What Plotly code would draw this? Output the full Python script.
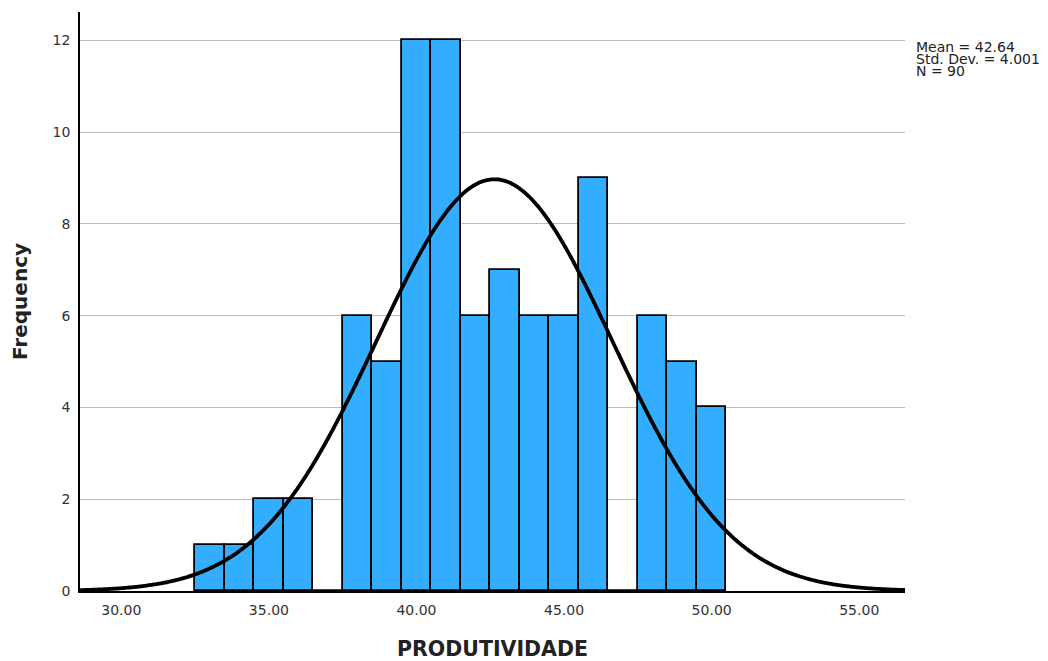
import numpy as np
import plotly.graph_objects as go

# Data
bin_centers = [33, 34, 35, 36, 37, 38, 39, 40, 41, 42, 43, 44, 45, 46, 47, 48, 49, 50]
frequencies = [1, 1, 2, 2, 0, 6, 5, 12, 12, 6, 7, 6, 6, 9, 0, 6, 5, 4]
mean_val = 42.64
std_val = 4.001
n_val = 90
x_ticks = [30, 35, 40, 45, 50, 55]
x_tick_labels = ["30.00", "35.00", "40.00", "45.00", "50.00", "55.00"]
y_ticks = [0, 2, 4, 6, 8, 10, 12]
stats_lines = ["Mean = 42.64", "Std. Dev. = 4.001", "N = 90"]

x_range = [28.6, 56.55]
y_range = [0, 12.62]

# normal curve fitted to stats (bin width 1)
xc = np.linspace(x_range[0], x_range[1], 500)
yc = n_val / (std_val * np.sqrt(2 * np.pi)) * np.exp(-(xc - mean_val) ** 2 / (2 * std_val ** 2))

fig = go.Figure()
fig.add_trace(go.Bar(
    x=bin_centers, y=frequencies, width=1,
    marker=dict(color="rgb(51,173,255)", line=dict(color="black", width=1.8)),
    hoverinfo="x+y", showlegend=False,
))
fig.add_trace(go.Scatter(
    x=xc, y=yc, mode="lines", line=dict(color="black", width=3.8, shape="spline"),
    hoverinfo="skip", showlegend=False,
))

OFF = 8  # page body margin
W, H = 1048 - OFF, 661 - OFF
L, R, T, B = 80 - OFF, 143, 12 - OFF, 661 - 594
pw = W - L - R
ph = H - T - B

def xpaper(px):
    return (px - OFF - L) / pw

def ypaper(py):
    return (H - B - (py - OFF)) / ph

annots = []
for i, s in enumerate(stats_lines):
    annots.append(dict(
        text=s, xref="paper", yref="paper",
        x=xpaper(914), y=ypaper(47.5 + i * 11.8),
        xanchor="left", yanchor="middle", showarrow=False,
        font=dict(family="DejaVu Sans, sans-serif", size=14, color="#222"),
    ))

tickfont = dict(family="DejaVu Sans, sans-serif", size=14, color="#333")
fig.update_layout(
    width=W, height=H,
    margin=dict(l=L, r=R, t=T, b=B),
    plot_bgcolor="white", paper_bgcolor="white",
    bargap=0,
    annotations=annots,
    xaxis=dict(
        range=x_range, tickmode="array", tickvals=x_ticks, ticktext=x_tick_labels,
        showgrid=False, zeroline=False, showline=True, linecolor="black", linewidth=1.5,
        ticks="outside", ticklen=5, tickcolor="rgba(0,0,0,0)", tickfont=tickfont,
        title=dict(text="<b>PRODUTIVIDADE</b>", standoff=25,
                   font=dict(family="DejaVu Sans, sans-serif", size=20.5, color="#222")),
    ),
    yaxis=dict(
        range=y_range, tickmode="array", tickvals=y_ticks,
        showgrid=True, gridcolor="#bcbcbc", gridwidth=1, zeroline=False,
        showline=True, linecolor="black", linewidth=1.5,
        ticks="outside", ticklen=5, tickcolor="rgba(0,0,0,0)", tickfont=tickfont,
        title=dict(text="<b>Frequency</b>", standoff=24,
                   font=dict(family="DejaVu Sans, sans-serif", size=20, color="#222")),
    ),
)

fig.write_html("out.html")
